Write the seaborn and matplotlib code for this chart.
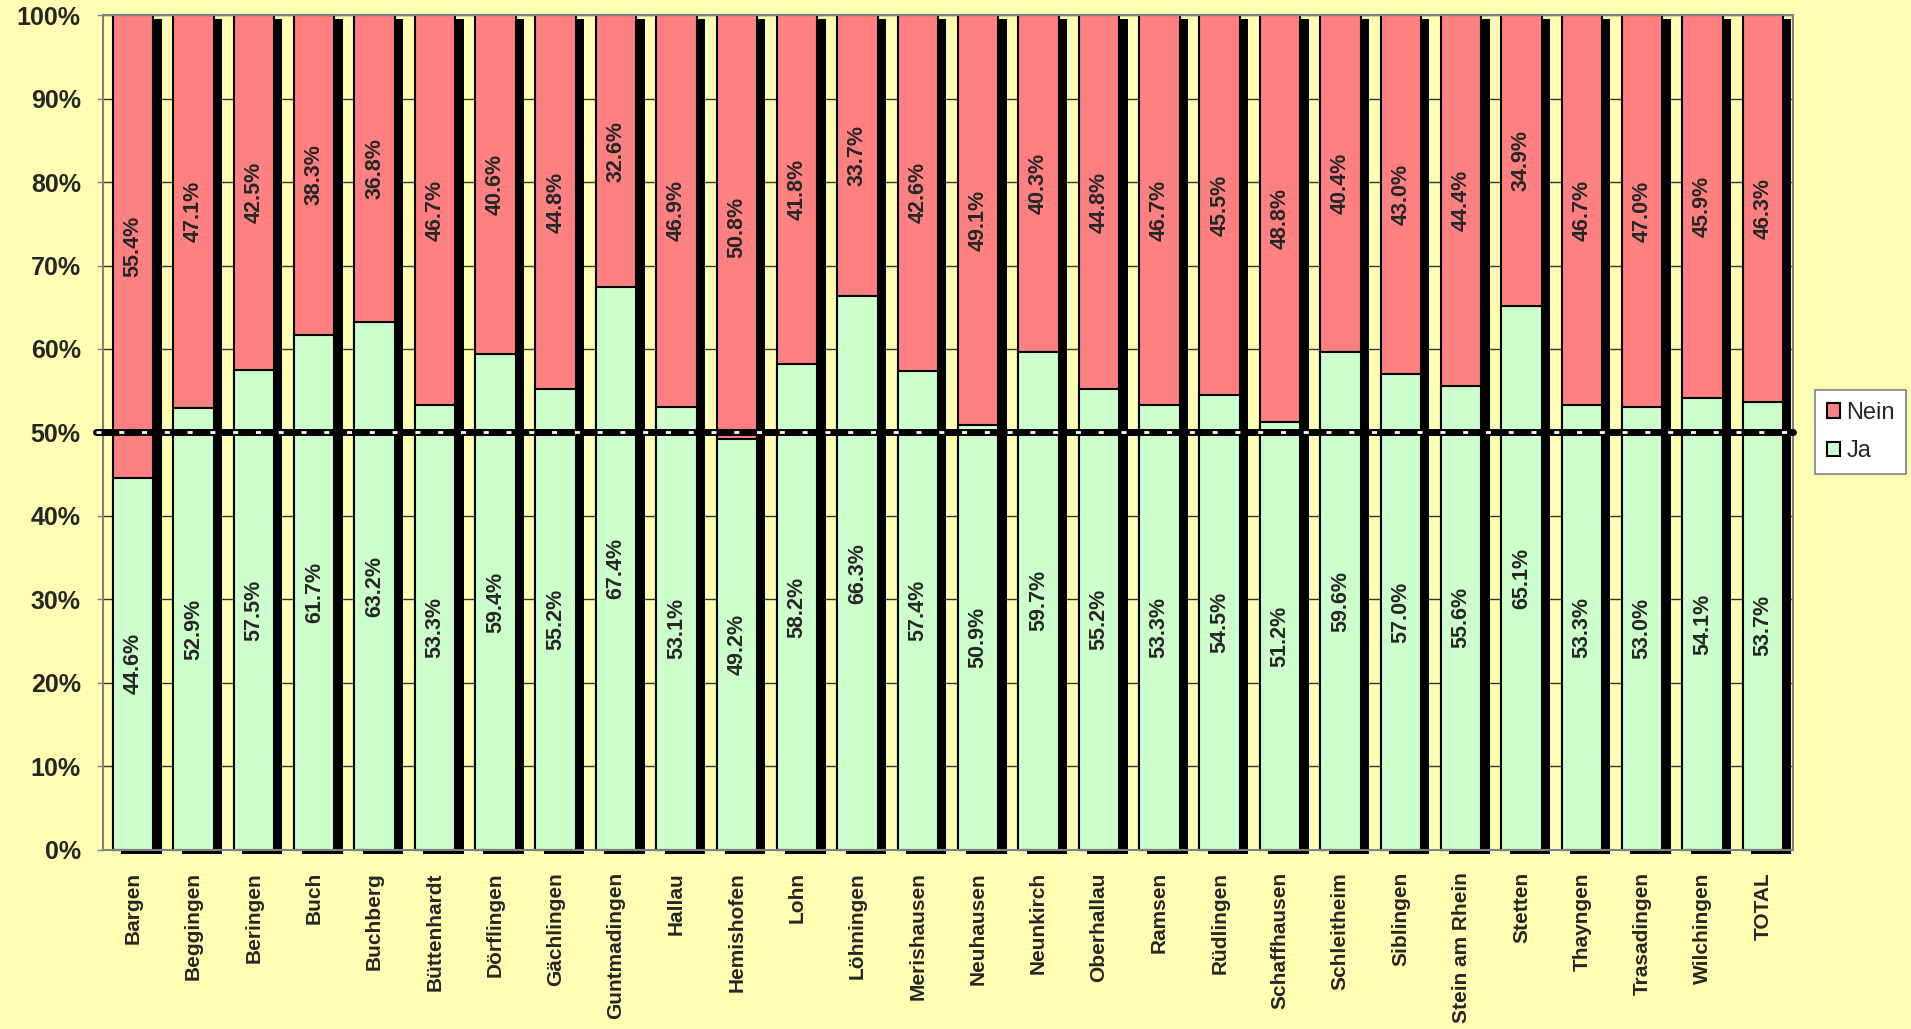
import matplotlib
matplotlib.use("Agg")
import matplotlib.pyplot as plt
import matplotlib.patheffects as pe
from matplotlib.patches import Patch
import seaborn as sns
import numpy as np

# Gemeinden (Schaffhausen) und Abstimmungsresultate in %
gemeinden = ['Bargen', 'Beggingen', 'Beringen', 'Buch', 'Buchberg', 'Büttenhardt',
             'Dörflingen', 'Gächlingen', 'Guntmadingen', 'Hallau', 'Hemishofen', 'Lohn',
             'Löhningen', 'Merishausen', 'Neuhausen', 'Neunkirch', 'Oberhallau', 'Ramsen',
             'Rüdlingen', 'Schaffhausen', 'Schleitheim', 'Siblingen', 'Stein am Rhein',
             'Stetten', 'Thayngen', 'Trasadingen', 'Wilchingen', 'TOTAL']
ja = [44.6, 52.9, 57.5, 61.7, 63.2, 53.3, 59.4, 55.2, 67.4, 53.1, 49.2, 58.2,
      66.3, 57.4, 50.9, 59.7, 55.2, 53.3, 54.5, 51.2, 59.6, 57.0, 55.6, 65.1,
      53.3, 53.0, 54.1, 53.7]
nein = [55.4, 47.1, 42.5, 38.3, 36.8, 46.7, 40.6, 44.8, 32.6, 46.9, 50.8, 41.8,
        33.7, 42.6, 49.1, 40.3, 44.8, 46.7, 45.5, 48.8, 40.4, 43.0, 44.4, 34.9,
        46.7, 47.0, 45.9, 46.3]
y_ticks = list(range(0, 101, 10))

sns.set_style("white")
plt.rcParams['font.family'] = ['Liberation Sans', 'DejaVu Sans']

bg = '#FFFFB3'
col_nein = '#FF8080'
col_ja = '#CCFFCC'

fig = plt.figure(figsize=(19.11, 10.29), dpi=100, facecolor=bg)
ax = fig.add_axes([0.0539, 0.174, 0.8844, 0.8114])
ax.set_facecolor(bg)

total = np.array(ja) + np.array(nein)

# Nein stacked on top of Ja -> draw total first, then Ja over it
sns.barplot(x=gemeinden, y=total, color=col_nein, saturation=1, width=0.67,
            edgecolor='black', linewidth=1.5, ax=ax)
sns.barplot(x=gemeinden, y=ja, color=col_ja, saturation=1, width=0.67,
            edgecolor='black', linewidth=1.5, ax=ax)

# Excel-like drop shadow
for p in ax.patches:
    p.set_path_effects([pe.SimplePatchShadow(offset=(6, -3), shadow_rgbFace='black', alpha=1),
                        pe.Normal()])
    p.set_clip_on(False)

# value labels
for i, (j, n) in enumerate(zip(ja, nein)):
    ax.text(i, j / 2, f'{j:.1f}%', rotation=90, ha='center', va='center',
            fontsize=15.5, fontweight='bold', zorder=6)
    ax.text(i, j + n / 2, f'{n:.1f}%', rotation=90, ha='center', va='center',
            fontsize=15.5, fontweight='bold', zorder=6)

# 50% line
ax.axhline(50, xmin=-0.004, color='black', lw=5, zorder=5, clip_on=False)
ax.axhline(50, xmin=-0.004, color='white', lw=2, ls=(0, (1.8, 6.4)), zorder=5.5, clip_on=False)

ax.set_ylim(0, 100)
ax.set_xlim(-0.5, len(gemeinden) - 0.5)
ax.set_yticks(y_ticks)
ax.set_yticklabels([f'{t}%' for t in y_ticks], fontsize=18, fontweight='bold')
ax.set_xticks(range(len(gemeinden)))
ax.set_xticklabels(gemeinden, rotation=90, fontsize=15, fontweight='bold')
ax.set_xlabel('')
ax.set_ylabel('')

ax.yaxis.grid(True, color='#333333', linewidth=1)
ax.set_axisbelow(True)
ax.tick_params(axis='y', length=4, width=1, color='#808080', pad=12, left=True)
ax.tick_params(axis='x', length=0, pad=16)
for s in ax.spines.values():
    s.set_color('#808080')
    s.set_linewidth(1.5)

handles = [Patch(facecolor=col_nein, edgecolor='black', linewidth=1.5, label='Nein'),
           Patch(facecolor=col_ja, edgecolor='black', linewidth=1.5, label='Ja')]
leg = fig.legend(handles=handles, loc='upper left', bbox_to_anchor=(0.950, 0.621),
                 fontsize=17, frameon=True, fancybox=False, edgecolor='#808080',
                 facecolor='white', framealpha=1, handlelength=0.55, handleheight=0.55,
                 handletextpad=0.25, borderpad=0.5, labelspacing=0.7, borderaxespad=0)
leg.get_frame().set_linewidth(1.2)

fig.savefig('out.png', dpi=100, facecolor=bg)
